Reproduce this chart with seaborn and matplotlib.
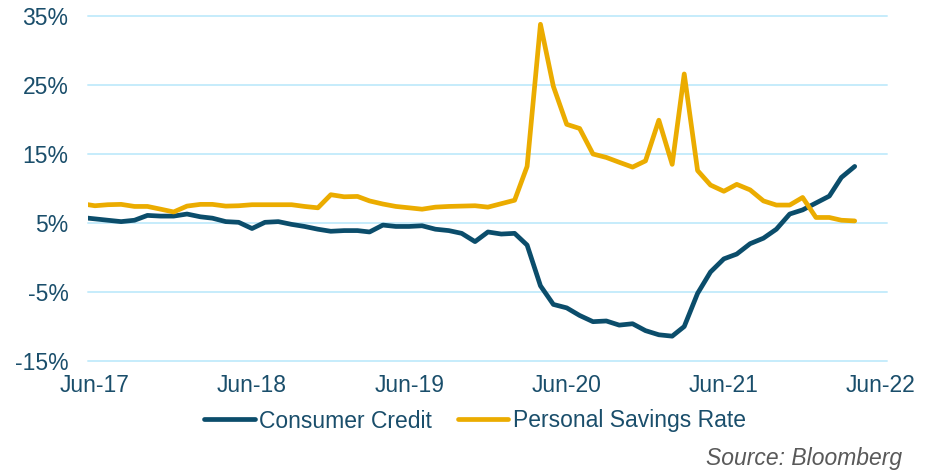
import numpy as np
import pandas as pd
import matplotlib
matplotlib.use("Agg")
import matplotlib.pyplot as plt
import seaborn as sns

# Monthly observations, May-2017 .. Apr-2022
months = pd.date_range("2017-05-01", "2022-04-01", freq="MS")

consumer_credit = [
    5.8, 5.6, 5.4, 5.2, 5.4, 6.1, 6.0, 6.0, 6.3, 5.9, 5.7, 5.2,
    5.1, 4.2, 5.1, 5.2, 4.8, 4.5, 4.1, 3.8, 3.9, 3.9, 3.7, 4.7,
    4.5, 4.5, 4.6, 4.1, 3.9, 3.5, 2.3, 3.7, 3.4, 3.5, 1.8, -4.1,
    -6.8, -7.3, -8.4, -9.3, -9.2, -9.8, -9.6, -10.6, -11.2, -11.4, -10.0, -5.2,
    -2.1, -0.2, 0.5, 2.0, 2.8, 4.1, 6.3, 6.9, 7.9, 8.9, 11.6, 13.2,
]

savings_rate = [
    7.8, 7.5, 7.65, 7.7, 7.4, 7.4, 7.0, 6.6, 7.45, 7.7, 7.7, 7.45,
    7.5, 7.65, 7.65, 7.65, 7.65, 7.4, 7.2, 9.1, 8.8, 8.85, 8.2, 7.75,
    7.4, 7.2, 7.0, 7.3, 7.4, 7.45, 7.5, 7.3, 7.8, 8.3, 13.2, 33.8,
    24.8, 19.3, 18.7, 15.0, 14.5, 13.8, 13.1, 14.0, 19.9, 13.5, 26.6, 12.6,
    10.5, 9.6, 10.6, 9.8, 8.2, 7.6, 7.6, 8.7, 5.8, 5.8, 5.4, 5.3,
]

series_names = ["Consumer Credit", "Personal Savings Rate"]
y_ticks = [-15, -5, 5, 15, 25, 35]
x_tick_labels = ["Jun-17", "Jun-18", "Jun-19", "Jun-20", "Jun-21", "Jun-22"]
source_text = "Source: Bloomberg"

df = pd.DataFrame({
    "Date": np.concatenate([months, months]),
    "Value": consumer_credit + savings_rate,
    "Series": [series_names[0]] * len(months) + [series_names[1]] * len(months),
})

sns.set_theme(style="white")
plt.rcParams["font.family"] = ["Liberation Sans", "DejaVu Sans"]

navy = "#0B4D6B"
gold = "#EBAC00"
grid_c = "#C6ECFB"
text_c = "#1A4E6B"

W, H = 939, 474
fig = plt.figure(figsize=(W / 100, H / 100), dpi=100)
ax = fig.add_axes([88 / W, 1 - 361 / H, (887 - 88) / W, (361 - 16) / H])

sns.lineplot(data=df, x="Date", y="Value", hue="Series",
             palette={series_names[0]: navy, series_names[1]: gold},
             linewidth=3.4, ax=ax, zorder=3)

ax.set_ylim(-15, 35)
ax.set_yticks(y_ticks)
ax.set_yticklabels([f"{v}%" for v in y_ticks])
ax.set_xlim(pd.Timestamp("2017-05-16"), pd.Timestamp("2022-06-15"))
tick_dates = [pd.Timestamp(f"20{17 + i}-06-01") for i in range(len(x_tick_labels))]
ax.set_xticks(tick_dates)
ax.set_xticklabels(x_tick_labels)

ax.grid(axis="y", color=grid_c, linewidth=1.4)
ax.grid(axis="x", visible=False)
for gl in ax.get_ygridlines():
    gl.set_clip_on(False)
for s in ax.spines.values():
    s.set_visible(False)
ax.set_xlabel("")
ax.set_ylabel("")
ax.tick_params(axis="y", length=0, pad=14, labelsize=16.5, labelcolor=text_c)
ax.tick_params(axis="x", length=0, pad=9, labelsize=16.5, labelcolor=text_c)

handles, labels = ax.get_legend_handles_labels()
ax.get_legend().remove()
fig.legend(handles, labels, loc="center", bbox_to_anchor=(475 / W, 1 - 421 / H),
           ncol=2, frameon=False, fontsize=16.5, handlelength=2.2,
           handletextpad=0.2, columnspacing=1.1, labelcolor=text_c)

fig.text(902 / W, 1 - 459 / H, source_text, ha="right", va="center",
         fontsize=16.5, style="italic", color="#595959")

fig.savefig("out.png", dpi=100, facecolor="white")
